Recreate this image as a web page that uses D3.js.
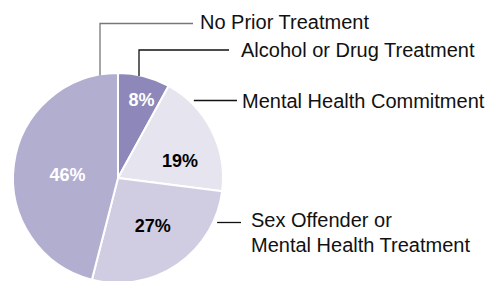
<!DOCTYPE html>
<html>
<head>
<meta charset="utf-8">
<script src="https://cdn.jsdelivr.net/npm/d3@7/dist/d3.min.js"></script>
<style>
  html, body { margin: 0; padding: 0; background: #fff; }
  svg { display: block; font-family: Arial, "Liberation Sans", Helvetica, sans-serif; }
</style>
</head>
<body>
<div id="chart"></div>
<script>
// slices, clockwise from 12 o'clock
var categories = ["Alcohol or Drug Treatment", "Mental Health Commitment", "Sex Offender or Mental Health Treatment", "No Prior Treatment"];
var values = [8, 19, 27, 46];
var pctLabels = ["8%", "19%", "27%", "46%"];
var colors = ["#8d88b9", "#e6e4ef", "#d0cde3", "#b2aed0"];
var pctColors = ["#fff", "#000", "#000", "#fff"];

var width = 489, height = 281;
var cx = 118, cy = 178, r = 105;

var svg = d3.select("#chart").append("svg")
    .attr("width", width)
    .attr("height", height);

var pie = d3.pie().sort(null).value(function (d) { return d; });
var arcs = pie(values);

var arc = d3.arc().innerRadius(0).outerRadius(r);
var labelArc = d3.arc().innerRadius(60).outerRadius(60);

var g = svg.append("g").attr("transform", "translate(" + cx + "," + cy + ")");

g.selectAll("path.slice")
    .data(arcs)
    .enter().append("path")
    .attr("class", "slice")
    .attr("d", arc)
    .attr("fill", function (d, i) { return colors[i]; })
    .attr("stroke", "#fff")
    .attr("stroke-width", 2)
    .attr("stroke-linejoin", "round");

// nudges so the percent labels sit where the original has them
var nudge = [[8.6, -20.4], [8.5, 10], [1, -2], [9, 4.5]];

g.selectAll("text.pct")
    .data(arcs)
    .enter().append("text")
    .attr("class", "pct")
    .attr("x", function (d, i) { return labelArc.centroid(d)[0] + nudge[i][0]; })
    .attr("y", function (d, i) { return labelArc.centroid(d)[1] + nudge[i][1]; })
    .attr("dy", "0.36em")
    .attr("text-anchor", "middle")
    .attr("font-size", "18px")
    .attr("font-weight", "bold")
    .attr("fill", function (d, i) { return pctColors[i]; })
    .text(function (d, i) { return pctLabels[i]; });

// point on the rim at a given x (top half) / given y (right half)
function rimY(x) {
    var dx = x - cx;
    return cy - Math.sqrt(r * r - dx * dx);
}
function rimX(y) {
    var dy = y - cy;
    return cx + Math.sqrt(r * r - dy * dy);
}

var callouts = [
    { idx: 3, pts: [[100, rimY(100) + 1], [100, 23.5], [193, 23.5]], stroke: "#777", tx: 200, ty: [29] },
    { idx: 0, pts: [[139, rimY(139) + 1], [139, 50], [229, 50]], stroke: "#111", tx: 241, ty: [57] },
    { idx: 1, pts: [[rimX(100.5) + 5, 100.5], [237, 100.5]], stroke: "#111", tx: 242, ty: [108] },
    { idx: 2, pts: [[rimX(222.5) + 4, 222.5], [241, 222.5]], stroke: "#111", tx: 251, ty: [227, 252] }
];
var wrapped = {
    2: ["Sex Offender or", "Mental Health Treatment"]
};

svg.selectAll("path.leader")
    .data(callouts)
    .enter().append("path")
    .attr("class", "leader")
    .attr("d", function (d) { return d3.line()(d.pts); })
    .attr("fill", "none")
    .attr("stroke", function (d) { return d.stroke; })
    .attr("stroke-width", 1.3);

callouts.forEach(function (c) {
    var lines = wrapped[c.idx] || [categories[c.idx]];
    var t = svg.append("text")
        .attr("font-size", "20px")
        .attr("fill", "#111");
    lines.forEach(function (s, k) {
        t.append("tspan").attr("x", c.tx).attr("y", c.ty[k]).text(s);
    });
});
</script>
</body>
</html>
